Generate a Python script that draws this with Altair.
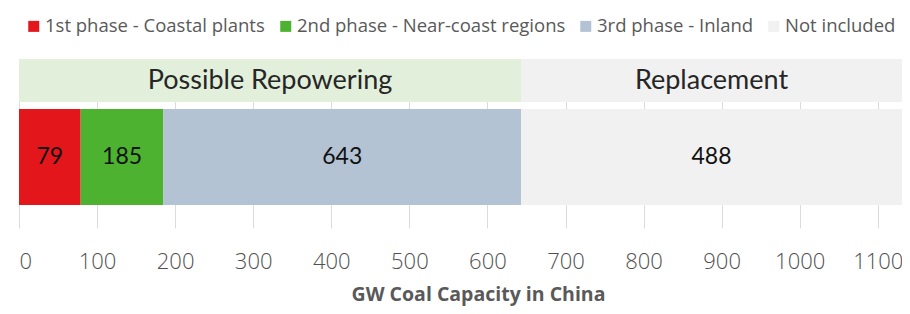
import altair as alt
import pandas as pd

# ---- data ----
phases = ["1st phase - Coastal plants", "2nd phase - Near-coast regions",
          "3rd phase - Inland", "Not included"]
bounds = [0, 79, 185, 643, 1131]          # cumulative GW boundaries
seg_labels = ["79", "185", "643", "488"]
phase_colors = ["#E3161B", "#4DB230", "#B3C3D4", "#F1F1F1"]

groups = ["Possible Repowering", "Replacement"]
group_bounds = [0, 643, 1131]
group_colors = ["#E2EFDA", "#F1F1F1"]

tick_values = [0, 100, 200, 300, 400, 500, 600, 700, 800, 900, 1000, 1100]
x_max = 1131

seg = pd.DataFrame({"phase": phases, "start": bounds[:-1], "end": bounds[1:],
                    "label": seg_labels})
grp = pd.DataFrame({"group": groups, "start": group_bounds[:-1],
                    "end": group_bounds[1:]})

x_scale = alt.Scale(domain=[0, x_max], nice=False, zero=True)
x_axis = alt.Axis(
    values=tick_values, format="d", title="GW Coal Capacity in China", grid=True,
    gridColor="#DCDCDC", gridWidth=1, domain=False, ticks=False,
    labelFontSize=22, labelFont="Open Sans", labelFontWeight=300,
    labelColor="#505050", labelPadding=23,
    titleFont="Open Sans", titleFontSize=19.5, titleFontWeight="bold",
    titleColor="#595959", titlePadding=13, titleX=459,
)

header = alt.Chart(grp).mark_rect().encode(
    x=alt.X("start:Q", scale=x_scale, axis=x_axis),
    x2="end:Q",
    y=alt.value(0), y2=alt.value(43),
    color=alt.Color("group:N", scale=alt.Scale(domain=groups, range=group_colors),
                    legend=None),
)

header_text = alt.Chart(grp).transform_calculate(
    mid="(datum.start + datum.end) / 2"
).mark_text(font="Lato", fontSize=27, color="#262626", baseline="middle").encode(
    x=alt.X("mid:Q", scale=x_scale),
    y=alt.value(22),
    text="group:N",
)

bars = alt.Chart(seg).mark_rect().encode(
    x=alt.X("start:Q", scale=x_scale),
    x2="end:Q",
    y=alt.value(50), y2=alt.value(146),
    color=alt.Color(
        "phase:N",
        scale=alt.Scale(domain=phases, range=phase_colors),
        legend=alt.Legend(
            title=None, orient="none", legendX=5.5, legendY=-42,
            direction="horizontal", symbolType="square", symbolSize=121,
            symbolStrokeWidth=0, labelFontSize=18.5, labelFont="Open Sans",
            labelColor="#595959", columnPadding=11, labelOffset=2,
            labelLimit=400, padding=0,
        ),
    ),
)

bar_text = alt.Chart(seg).transform_calculate(
    mid="(datum.start + datum.end) / 2"
).mark_text(font="Lato", fontSize=23, color="#111111", baseline="middle").encode(
    x=alt.X("mid:Q", scale=x_scale),
    y=alt.value(98),
    text="label:N",
)

chart = alt.layer(header, header_text, bars, bar_text).resolve_scale(
    color="independent"
).properties(
    width=883, height=169, autosize="none",
    padding={"left": 11, "top": 51, "right": 0, "bottom": 78},
).configure_view(stroke=None)

chart.save("out.html", embed_options={"renderer": "svg", "actions": False})
